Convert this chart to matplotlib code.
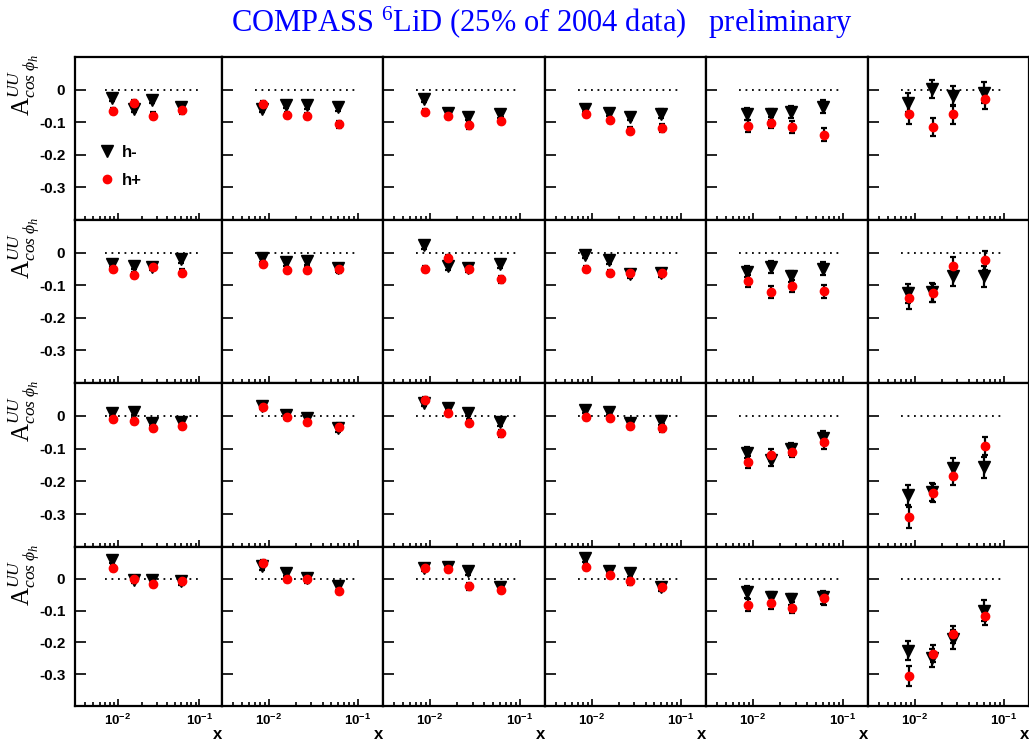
import numpy as np
import matplotlib
matplotlib.use("Agg")
import matplotlib.pyplot as plt
from matplotlib.lines import Line2D
from matplotlib.ticker import FixedLocator, FuncFormatter, LogLocator, NullFormatter

# font setup
plt.rcParams['font.family'] = ['Liberation Sans', 'DejaVu Sans']
plt.rcParams['mathtext.fontset'] = 'custom'
plt.rcParams['mathtext.rm'] = 'Liberation Serif'
plt.rcParams['mathtext.it'] = 'Liberation Serif:italic'
plt.rcParams['mathtext.bf'] = 'Liberation Sans:bold'

# x bins (same in every panel)
x_hm = [0.0085, 0.0157, 0.0267, 0.060]
x_hp = [0.0087, 0.0159, 0.0270, 0.061]

# A_UU^cos(phi_h), rows top -> bottom, 6 panels per row, 4 x-bins per panel
hm_row1 = [[-0.025, -0.060, -0.032, -0.053], [-0.058, -0.047, -0.048, -0.054],
           [-0.028, -0.071, -0.083, -0.076], [-0.058, -0.071, -0.083, -0.074],
           [-0.074, -0.076, -0.069, -0.053], [-0.040, 0.001, -0.020, -0.009]]
hp_row1 = [[-0.065, -0.040, -0.080, -0.063], [-0.045, -0.077, -0.081, -0.106],
           [-0.069, -0.081, -0.110, -0.095], [-0.074, -0.094, -0.126, -0.119],
           [-0.111, -0.101, -0.114, -0.138], [-0.074, -0.114, -0.076, -0.030]]

hm_row2 = [[-0.034, -0.040, -0.044, -0.020], [-0.018, -0.030, -0.026, -0.047],
           [0.022, -0.042, -0.047, -0.036], [-0.007, -0.024, -0.067, -0.063],
           [-0.058, -0.044, -0.073, -0.049], [-0.125, -0.122, -0.073, -0.073]]
hp_row2 = [[-0.049, -0.068, -0.044, -0.062], [-0.036, -0.054, -0.052, -0.051],
           [-0.049, -0.016, -0.049, -0.082], [-0.049, -0.062, -0.064, -0.064],
           [-0.086, -0.121, -0.103, -0.118], [-0.140, -0.123, -0.042, -0.024]]

hm_row3 = [[0.008, 0.013, -0.021, -0.018], [0.030, 0.001, -0.007, -0.038],
           [0.039, 0.024, 0.009, -0.018], [0.018, 0.011, -0.021, -0.015],
           [-0.112, -0.136, -0.100, -0.067], [-0.241, -0.232, -0.160, -0.157]]
hp_row3 = [[-0.009, -0.015, -0.036, -0.030], [0.028, -0.005, -0.019, -0.033],
           [0.048, 0.010, -0.021, -0.053], [-0.005, -0.008, -0.031, -0.038],
           [-0.142, -0.120, -0.109, -0.080], [-0.310, -0.236, -0.184, -0.092]]

hm_row4 = [[0.059, -0.003, -0.005, -0.008], [0.039, 0.019, 0.002, -0.023],
           [0.034, 0.038, 0.024, -0.026], [0.064, 0.025, 0.018, -0.026],
           [-0.042, -0.058, -0.065, -0.058], [-0.226, -0.250, -0.190, -0.100]]
hp_row4 = [[0.033, -0.002, -0.017, -0.008], [0.049, 0.000, -0.002, -0.037],
           [0.034, 0.030, -0.024, -0.035], [0.038, 0.013, -0.008, -0.026],
           [-0.082, -0.076, -0.091, -0.061], [-0.305, -0.235, -0.175, -0.116]]

# statistical errors, per column of panels
err_hm = [[0.010, 0.010, 0.010, 0.012], [0.010, 0.010, 0.011, 0.012],
          [0.010, 0.010, 0.011, 0.012], [0.010, 0.010, 0.011, 0.013],
          [0.018, 0.018, 0.018, 0.020], [0.030, 0.028, 0.030, 0.032]]
err_hp = [[0.009, 0.009, 0.010, 0.011], [0.009, 0.009, 0.010, 0.011],
          [0.009, 0.009, 0.010, 0.011], [0.009, 0.009, 0.010, 0.012],
          [0.018, 0.018, 0.018, 0.020], [0.032, 0.028, 0.028, 0.028]]

hm_rows = [hm_row1, hm_row2, hm_row3, hm_row4]
hp_rows = [hp_row1, hp_row2, hp_row3, hp_row4]

title = r'COMPASS $^{6}$LiD (25% of 2004 data)   preliminary'
ylabel = r'$\mathrm{A}^{UU}_{cos\;\phi_h}$'

W, H = 1029, 740
fig = plt.figure(figsize=(W / 100, H / 100), dpi=100)

col_edges = [75, 222, 383, 545, 706, 868, 1029]
row_edges = [57, 220, 383, 547, 706]


def decade_fmt(v, pos):
    return r'$\mathbf{10^{%d}}$' % int(round(np.log10(v)))


for r in range(4):
    for c in range(6):
        x0, x1 = col_edges[c], col_edges[c + 1]
        y0, y1 = row_edges[r], row_edges[r + 1]
        ax = fig.add_axes([x0 / W, 1 - y1 / H, (x1 - x0) / W, (y1 - y0) / H])

        ax.set_xscale('log')
        ax.set_xlim(0.003, 0.19)
        ax.set_ylim(-0.4, 0.1)

        ax.hlines(0, 0.007, 0.1, colors='k', linestyles=(0, (1, 2.6)), lw=1.3)

        ax.errorbar(x_hm, hm_rows[r][c], yerr=err_hm[c], fmt='v', color='k',
                    ms=8, elinewidth=1.6, capsize=2, capthick=1.6, zorder=3)
        ax.errorbar(x_hp, hp_rows[r][c], yerr=err_hp[c], fmt='o', mfc='red', mec='red',
                    ecolor='k', ms=6, elinewidth=1.6, capsize=2, capthick=1.6, zorder=4)

        for s in ax.spines.values():
            s.set_linewidth(1.6)

        ax.yaxis.set_major_locator(FixedLocator([-0.3, -0.2, -0.1, 0.0]))
        ax.xaxis.set_major_locator(LogLocator(base=10))
        ax.xaxis.set_minor_locator(LogLocator(base=10, subs=np.arange(2, 10)))
        ax.xaxis.set_minor_formatter(NullFormatter())
        ax.xaxis.set_major_formatter(FuncFormatter(decade_fmt))

        ax.tick_params(direction='in', which='both', top=False, right=False, width=1.2)
        ax.tick_params(axis='y', length=8, pad=7, labelsize=11)
        ax.tick_params(axis='x', which='major', length=5, pad=5, labelsize=9.5)
        ax.tick_params(axis='x', which='minor', length=3)

        if c == 0:
            ax.yaxis.set_major_formatter(FuncFormatter(lambda v, p: '0' if abs(v) < 1e-9 else '%.1f' % v))
            for t in ax.get_yticklabels():
                t.set_fontweight('bold')
            fig.text(25 / W, 1 - (y0 - 3) / H, ylabel, rotation=90, ha='center', va='top', fontsize=18)
        else:
            ax.tick_params(axis='y', labelleft=False)

        if r == 3:
            ax.set_xlabel('x', loc='right', fontweight='bold', fontsize=12, labelpad=-1)
        else:
            ax.tick_params(axis='x', labelbottom=False)

        if r == 0 and c == 0:
            handles = [Line2D([], [], marker='v', ls='none', color='k', ms=8),
                       Line2D([], [], marker='o', ls='none', color='red', ms=6)]
            ax.legend(handles, ['h-', 'h+'], loc='center left', bbox_to_anchor=(0.16, 0.33),
                      frameon=False, borderpad=0, borderaxespad=0, handlelength=1.0,
                      handletextpad=0.4, labelspacing=0.8,
                      prop={'weight': 'bold', 'size': 12})

fig.text(542 / W, 1 - 23 / H, title, color='blue', fontsize=22, family='Liberation Serif',
         ha='center', va='center')

fig.savefig('out.png', dpi=100)
